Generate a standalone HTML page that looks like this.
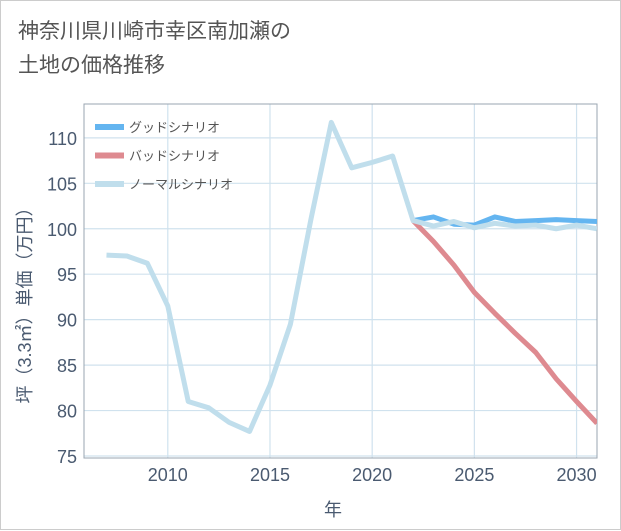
<!DOCTYPE html>
<html><head><meta charset="utf-8"><style>
body{margin:0;background:#fff;}
#card{position:absolute;left:0;top:0;width:619px;height:528px;border:1px solid #ccc;background:#fff;font-family:"Liberation Sans","Noto Sans CJK JP",sans-serif;}
#title{position:absolute;left:17px;top:14px;font-size:21px;line-height:34px;color:#555;}
</style></head><body>
<div id="card">
<div id="title">神奈川県川崎市幸区南加瀬の<br>土地の価格推移</div>
<svg id="chart" width="621" height="530" style="position:absolute;left:0;top:0"></svg>
</div>
<script>
const years=[2007,2008,2009,2010,2011,2012,2013,2014,2015,2016,2017,2018,2019,2020,2021,2022,2023,2024,2025,2026,2027,2028,2029,2030,2031];
const normal=[97.1,97.0,96.2,91.5,81.0,80.3,78.7,77.7,82.8,89.5,101,111.7,106.7,107.3,108.0,100.9,100.3,100.8,100.1,100.6,100.3,100.4,100.0,100.4,100.0];
const goodYears=[2022,2023,2024,2025,2026,2027,2028,2029,2030,2031];
const good=[100.9,101.3,100.5,100.4,101.3,100.8,100.9,101.0,100.9,100.8];
const bad=[100.9,98.6,96.0,93.0,90.7,88.5,86.4,83.5,81.0,78.6];
const xTicks=[2010,2015,2020,2025,2030];
const yTicks=[75,80,85,90,95,100,105,110];
const L=83,R=596,T=103,B=457;
const x=v=>L+(v-2005.9)/(2031-2005.9)*(R-L);
const y=v=>455-(v-75)*9.09;
const svg=document.getElementById('chart');
const NS='http://www.w3.org/2000/svg';
function mk(t,a){const e=document.createElementNS(NS,t);for(const k in a)e.setAttribute(k,a[k]);svg.appendChild(e);return e;}
const clip=mk('clipPath',{id:'pc'});const cr=document.createElementNS(NS,'rect');cr.setAttribute('x',L);cr.setAttribute('y',T);cr.setAttribute('width',R-L);cr.setAttribute('height',B-T);clip.appendChild(cr);
yTicks.forEach(v=>{const g=mk('line',{x1:L,x2:R,y1:y(v),y2:y(v),stroke:'#d0e2ee','stroke-width':1.2});


const t=mk('text',{x:L-7,y:y(v)+7,'text-anchor':'end','font-size':18,fill:'#4a5a70'});t.textContent=v;

});
xTicks.forEach(v=>{const g=mk('line',{x1:x(v),x2:x(v),y1:T,y2:B,stroke:'#d0e2ee','stroke-width':1.2});


const t=mk('text',{x:x(v),y:B+23,'text-anchor':'middle','font-size':18,fill:'#4a5a70'});t.textContent=v;

});
const fr=mk('rect',{x:L,y:T,width:R-L,height:B-T,fill:'none',stroke:'#9aa5b0','stroke-width':1});


function line(xs,ys,c,n){const p=mk('polyline',{points:xs.map((v,i)=>x(v)+','+y(ys[i])).join(' '),fill:'none',stroke:c,'stroke-width':5,'stroke-linejoin':'round','clip-path':'url(#pc)'});

}
line(goodYears,bad,'#de8a90','bad-scenario-line');
line(goodYears,good,'#64b5f0','good-scenario-line');
line(years,normal,'#c0deec','normal-scenario-line');
const leg=[['グッドシナリオ','#64b5f0'],['バッドシナリオ','#de8a90'],['ノーマルシナリオ','#c0deec']];
leg.forEach((d,i)=>{const yy=126+i*28.5;
const s=mk('line',{x1:94,x2:123,y1:yy,y2:yy,stroke:d[1],'stroke-width':6});


const t=mk('text',{x:128,y:yy+5,'font-size':13,fill:'#555'});t.textContent=d[0];

});
const yt=mk('text',{x:0,y:0,'font-size':18,fill:'#4a5a70','text-anchor':'middle',transform:'translate(30,300) rotate(-90)'});yt.textContent='坪（3.3㎡）単価（万円）';


const xt=mk('text',{x:332,y:515,'font-size':18,fill:'#4a5a70','text-anchor':'middle'});xt.textContent='年';


</script>
</body></html>
